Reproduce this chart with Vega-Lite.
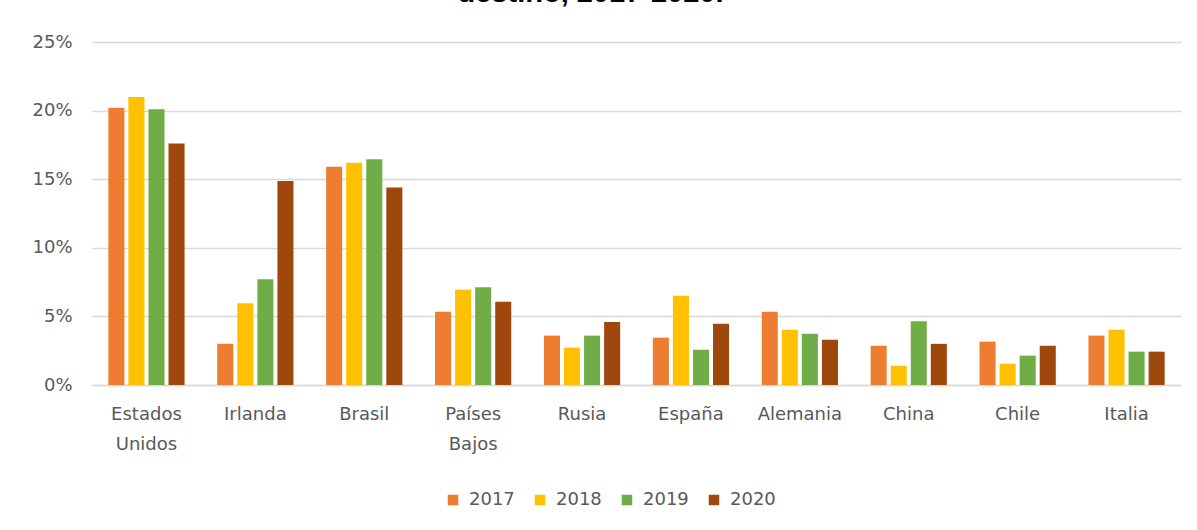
{
  "$schema": "https://vega.github.io/schema/vega-lite/v6.json",
  "autosize": "none",
  "width": 1089,
  "height": 343,
  "padding": {"left": 92, "top": 42, "right": 16, "bottom": 145},
  "background": "white",
  "title": {
    "text": "destino, 2017-2020.",
    "font": "Liberation Sans",
    "fontWeight": "bold",
    "fontSize": 29,
    "color": "#000000",
    "anchor": "middle",
    "frame": "group",
    "baseline": "alphabetic",
    "dx": -46,
    "offset": 2
  },
  "data": {
    "values": [
      {"pais": "Estados Unidos", "anio": "2017", "valor": 0.202},
      {"pais": "Estados Unidos", "anio": "2018", "valor": 0.210},
      {"pais": "Estados Unidos", "anio": "2019", "valor": 0.201},
      {"pais": "Estados Unidos", "anio": "2020", "valor": 0.176},
      {"pais": "Irlanda", "anio": "2017", "valor": 0.030},
      {"pais": "Irlanda", "anio": "2018", "valor": 0.0595},
      {"pais": "Irlanda", "anio": "2019", "valor": 0.077},
      {"pais": "Irlanda", "anio": "2020", "valor": 0.1487},
      {"pais": "Brasil", "anio": "2017", "valor": 0.159},
      {"pais": "Brasil", "anio": "2018", "valor": 0.162},
      {"pais": "Brasil", "anio": "2019", "valor": 0.1645},
      {"pais": "Brasil", "anio": "2020", "valor": 0.144},
      {"pais": "Países Bajos", "anio": "2017", "valor": 0.0534},
      {"pais": "Países Bajos", "anio": "2018", "valor": 0.0695},
      {"pais": "Países Bajos", "anio": "2019", "valor": 0.0712},
      {"pais": "Países Bajos", "anio": "2020", "valor": 0.0607},
      {"pais": "Rusia", "anio": "2017", "valor": 0.036},
      {"pais": "Rusia", "anio": "2018", "valor": 0.0272},
      {"pais": "Rusia", "anio": "2019", "valor": 0.036},
      {"pais": "Rusia", "anio": "2020", "valor": 0.046},
      {"pais": "España", "anio": "2017", "valor": 0.0345},
      {"pais": "España", "anio": "2018", "valor": 0.065},
      {"pais": "España", "anio": "2019", "valor": 0.0257},
      {"pais": "España", "anio": "2020", "valor": 0.0447},
      {"pais": "Alemania", "anio": "2017", "valor": 0.0534},
      {"pais": "Alemania", "anio": "2018", "valor": 0.0403},
      {"pais": "Alemania", "anio": "2019", "valor": 0.0374},
      {"pais": "Alemania", "anio": "2020", "valor": 0.033},
      {"pais": "China", "anio": "2017", "valor": 0.0286},
      {"pais": "China", "anio": "2018", "valor": 0.014},
      {"pais": "China", "anio": "2019", "valor": 0.0464},
      {"pais": "China", "anio": "2020", "valor": 0.030},
      {"pais": "Chile", "anio": "2017", "valor": 0.0316},
      {"pais": "Chile", "anio": "2018", "valor": 0.0155},
      {"pais": "Chile", "anio": "2019", "valor": 0.0214},
      {"pais": "Chile", "anio": "2020", "valor": 0.0286},
      {"pais": "Italia", "anio": "2017", "valor": 0.036},
      {"pais": "Italia", "anio": "2018", "valor": 0.0403},
      {"pais": "Italia", "anio": "2019", "valor": 0.0243},
      {"pais": "Italia", "anio": "2020", "valor": 0.0243}
    ]
  },
  "mark": {"type": "bar"},
  "encoding": {
    "x": {
      "field": "pais",
      "type": "nominal",
      "sort": null,
      "scale": {"paddingInner": 0.3, "paddingOuter": 0.15},
      "axis": {
        "title": null,
        "labelAngle": 0,
        "labelFont": "DejaVu Sans",
        "labelFontSize": 18,
        "labelColor": "#595959",
        "labelBaseline": "top",
        "labelPadding": 20,
        "labelLineHeight": 30,
        "labelExpr": "split(datum.label, ' ')",
        "ticks": false,
        "domainColor": "#d9d9d9",
        "domainWidth": 1.5,
        "grid": false
      }
    },
    "xOffset": {
      "field": "anio",
      "type": "nominal",
      "scale": {"paddingInner": 0.2, "paddingOuter": 0}
    },
    "y": {
      "field": "valor",
      "type": "quantitative",
      "scale": {"domain": [0, 0.25], "nice": false},
      "axis": {
        "title": null,
        "format": ".0%",
        "values": [0, 0.05, 0.1, 0.15, 0.2, 0.25],
        "labelFont": "DejaVu Sans",
        "labelFontSize": 18,
        "labelColor": "#595959",
        "labelPadding": 20,
        "ticks": false,
        "domain": false,
        "gridColor": "#d9d9d9",
        "gridWidth": 1.5
      }
    },
    "color": {
      "field": "anio",
      "type": "nominal",
      "scale": {
        "domain": ["2017", "2018", "2019", "2020"],
        "range": ["#ED7D31", "#FFC000", "#70AD47", "#9E480E"]
      },
      "legend": {
        "title": null,
        "orient": "none",
        "legendX": 352,
        "legendY": 449,
        "direction": "horizontal",
        "symbolType": "square",
        "symbolSize": 110,
        "symbolStrokeWidth": 0,
        "labelFont": "DejaVu Sans",
        "labelFontSize": 18,
        "labelColor": "#595959",
        "labelOffset": 7,
        "columnPadding": 16
      }
    }
  },
  "config": {
    "view": {"stroke": null}
  }
}
